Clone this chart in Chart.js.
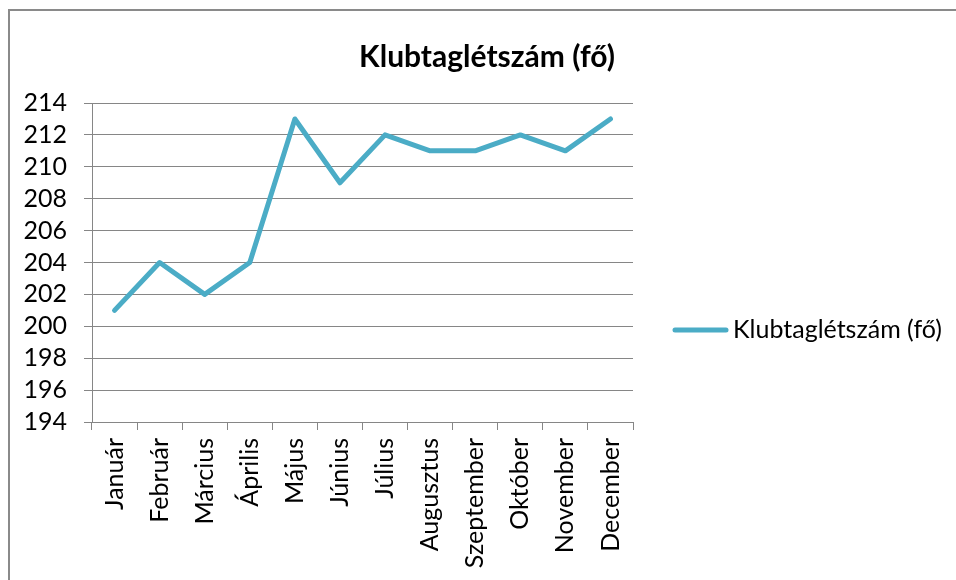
<!DOCTYPE html>
<html>
<head>
<meta charset="utf-8">
<script src="https://cdn.jsdelivr.net/npm/chart.js@4.4.1/dist/chart.umd.min.js"></script>
<style>
  html, body { margin: 0; padding: 0; background: #fff; }
  #wrap { position: relative; width: 956px; height: 580px; overflow: hidden; }
  #c { position: absolute; left: 0; top: 0; }
  #frame { position: absolute; left: 8px; top: 9px; width: 1000px; height: 700px;
           border-top: 2px solid #8a8a8a; border-left: 2px solid #8a8a8a; pointer-events: none; }
</style>
</head>
<body>
<div id="wrap">
  <canvas id="c" width="956" height="580"></canvas>
  <div id="frame"></div>
</div>
<script>
const categories = ['Január','Február','Március','Április','Május','Június','Július','Augusztus','Szeptember','Október','November','December'];
const seriesName = 'Klubtaglétszám (fő)';
const values = [201, 204, 202, 204, 213, 209, 212, 211, 211, 212, 211, 213];
const yTicks = [194, 196, 198, 200, 202, 204, 206, 208, 210, 212, 214];
const chartTitle = 'Klubtaglétszám (fő)';

const FONT = 'Lato, "Noto Sans", sans-serif';
const LINE_COLOR = '#4BACC6';
const GRID_COLOR = '#868686';

const titlePlugin = {
  id: 'excelTitle',
  afterDraw(chart) {
    const ctx = chart.ctx;
    ctx.save();
    ctx.font = 'bold 30px ' + FONT;
    ctx.fillStyle = '#000';
    ctx.textAlign = 'center';
    ctx.textBaseline = 'middle';
    ctx.fillText(chartTitle, 487, 57);
    ctx.restore();
  }
};

const legendPlugin = {
  id: 'excelLegend',
  afterDraw(chart) {
    const ctx = chart.ctx;
    const ds = chart.data.datasets[0];
    const y = 330;
    ctx.save();
    ctx.strokeStyle = ds.borderColor;
    ctx.lineWidth = 5;
    ctx.lineCap = 'round';
    ctx.beginPath();
    ctx.moveTo(675, y);
    ctx.lineTo(726, y);
    ctx.stroke();
    ctx.font = '25px ' + FONT;
    ctx.fillStyle = '#000';
    ctx.textAlign = 'left';
    ctx.textBaseline = 'middle';
    ctx.fillText(ds.label, 733, y);
    ctx.restore();
  }
};

new Chart(document.getElementById('c'), {
  type: 'line',
  data: {
    labels: categories,
    datasets: [{
      label: seriesName,
      data: values,
      borderColor: LINE_COLOR,
      backgroundColor: LINE_COLOR,
      borderWidth: 5,
      pointRadius: 0,
      pointHoverRadius: 0,
      tension: 0,
      borderJoinStyle: 'round',
      borderCapStyle: 'round',
      fill: false
    }]
  },
  options: {
    responsive: false,
    animation: false,
    events: [],
    layout: { padding: { left: 0, right: 323, top: 103, bottom: 0 } },
    plugins: {
      legend: { display: false },
      title: { display: false },
      tooltip: { enabled: false }
    },
    scales: {
      x: {
        type: 'category',
        offset: true,
        grid: {
          offset: true,
          drawOnChartArea: false,
          drawTicks: true,
          tickLength: 8,
          color: GRID_COLOR
        },
        border: { color: GRID_COLOR, width: 1 },
        ticks: {
          autoSkip: false,
          maxRotation: 90,
          minRotation: 90,
          padding: 8,
          color: '#000',
          font: { family: FONT, size: 25 }
        },
        afterFit(scale) { scale.height = 158; }
      },
      y: {
        min: 194,
        max: 214,
        afterBuildTicks(scale) { scale.ticks = yTicks.map(v => ({ value: v })); },
        grid: {
          color: GRID_COLOR,
          lineWidth: 1,
          drawTicks: true,
          tickLength: 8
        },
        border: { color: GRID_COLOR, width: 1 },
        ticks: {
          autoSkip: false,
          padding: 17,
          color: '#000',
          font: { family: FONT, size: 25 }
        },
        afterFit(scale) { scale.width = 92; }
      }
    }
  },
  plugins: [titlePlugin, legendPlugin]
});
</script>
</body>
</html>
